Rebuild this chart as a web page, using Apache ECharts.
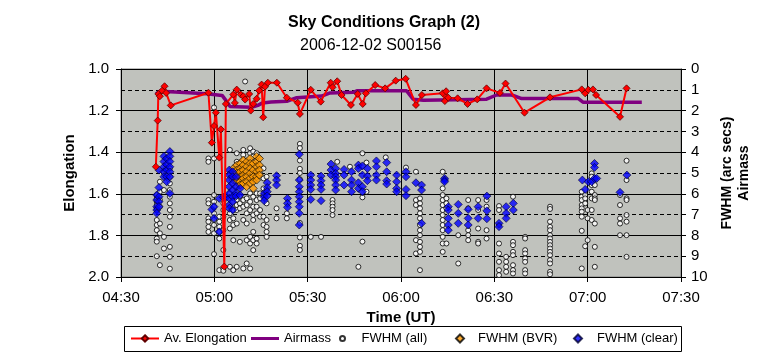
<!DOCTYPE html>
<html><head><meta charset="utf-8">
<script src="https://cdn.jsdelivr.net/npm/echarts@6/dist/echarts.min.js"></script>
<style>html,body{margin:0;padding:0;background:#fff}#c{width:762px;height:357px}</style>
</head><body><div id="c"></div>
<script>
const FONT = 'Liberation Sans, Arial, sans-serif';

// time in minutes after 00:00 UT
const xMin = 270, xMax = 450, xStep = 30;
const elongTicks = [1.0, 1.2, 1.4, 1.6, 1.8, 2.0];
const rightTicks = [0,1,2,3,4,5,6,7,8,9,10];

// Av. Elongation [minute, elongation]
const elongation = [
[281.2,1.47],[281.8,1.248],[282.0,1.12],[282.5,1.131],[283.2,1.104],[284.0,1.083],[284.5,1.115],[286.0,1.175],
[298.1,1.114],[299.2,1.354],[299.9,1.274],[300.5,1.21],[301.6,1.426],[302.1,1.29],[303.2,1.95],[303.7,1.168],
[306.1,1.123],[306.6,1.163],[307.2,1.099],[308.5,1.123],[309.3,1.131],[309.9,1.147],[311.2,1.12],[311.7,1.2],
[312.5,1.168],[313.6,1.143],[314.4,1.104],[315.2,1.075],[315.7,1.232],[316.3,1.085],[317.2,1.066],[320.1,1.066],
[323.3,1.138],[326.8,1.162],[327.5,1.216],[331.0,1.10],[334.2,1.157],[337.4,1.066],[338.0,1.088],[339.5,1.059],
[340.9,1.125],[343.9,1.173],[346.1,1.12],[347.7,1.168],[348.7,1.117],[351.7,1.077],[354.9,1.093],[358.3,1.056],
[361.5,1.047],[364.8,1.173],[366.7,1.125],[373.4,1.117],[374.1,1.154],[374.5,1.107],[375.2,1.138],[378.2,1.141],
[381.4,1.168],[384.5,1.146],[387.5,1.093],[391.8,1.115],[393.6,1.07],[399.7,1.21],[407.9,1.136],[418.1,1.098],
[419.2,1.117],[420.2,1.10],[421.7,1.098],[422.7,1.125],[430.4,1.23],[432.5,1.093]
];

// Airmass [minute, airmass]
const airmass = [
[281.25,1.2],[282.5,1.07],[287.4,1.1],[297.5,1.19],[302.5,1.27],[304.3,1.63],[305.0,1.8],[312.0,1.84],[314.0,1.75],
[315.5,1.63],[318.2,1.59],[323.3,1.55],[326.5,1.38],[334.5,1.3],[337.2,1.15],[344.7,1.12],[345.8,1.05],
[361.8,1.05],[363.9,1.45],[367.2,1.5],[387.5,1.45],[390.7,1.25],[395.6,1.25],[398.8,1.42],[417.0,1.42],
[418.6,1.6],[437.4,1.6]
];

// FWHM (all): [minute, [values...]]
const fwhmAllCols = [
[281.5,[6.06,6.22,6.38,6.54,6.7,6.78,7.26,7.5,7.75,8.15,8.3,9.0]],
[282.5,[5.42,5.9,6.3,6.62,7.43,7.9,9.43]],
[283.8,[5.0,5.82,8.07,8.63]],
[285.7,[4.78,5.18,5.5,5.82,6.14,6.46,6.78,7.1,7.59,8.55,9.03,9.6]],
[298.1,[4.3,4.46,6.3,6.46,7.18,7.34,7.59,7.83]],
[299.9,[1.85,4.3,6.06,6.38,6.62,6.94,7.26,7.5,7.9,8.9]],
[301.6,[7.1,7.34,7.59,7.83,8.15,9.67]],
[302.9,[6.46,6.78,7.1,7.75,8.7,9.6,9.7]],
[305.0,[3.89,5.02,5.98,6.94,7.26,7.67,9.51]],
[306.1,[6.78,7.18,7.5,8.23,9.67]],
[307.2,[4.05,4.46,6.3,6.54,6.78,7.43,9.51]],
[308.2,[4.54,6.14,6.46,6.7,8.31]],
[309.3,[3.89,4.13,4.38,6.3,6.62,7.26,9.59]],
[309.9,[0.6]],
[310.4,[6.22,6.54,6.94,7.43,8.23,9.35]],
[311.5,[3.81,4.05,5.98,6.38,6.78,8.07,8.39,9.59]],
[312.5,[3.97,4.21,6.14,6.62,7.02,7.26,7.83,8.23,8.71]],
[313.6,[4.05,5.98,6.3,6.62,6.94,8.15,8.39]],
[314.7,[5.02,5.98,6.22,6.78,7.1]],
[315.8,[4.78,5.26,5.74,6.06,7.1,7.5]],
[316.8,[5.18,5.82,6.46,7.26,7.59,7.83,8.07]],
[320.0,[6.7,7.18]],
[323.3,[6.94,7.18]],
[327.5,[3.6,3.8,4.4,4.8,5.0,5.3,7.4,8.1,8.5,8.7]],
[331.0,[8.07]],
[334.3,[8.07]],
[338.0,[6.3,6.46,6.62,6.78,7.02]],
[339.5,[4.46]],
[343.6,[4.7]],
[346.3,[9.51]],
[347.6,[4.05,6.17,8.3]],
[348.9,[4.5,5.9]],
[355.1,[4.25]],
[361.6,[4.74]],
[364.8,[4.94,6.3,6.54,8.23,8.87]],
[366.1,[6.22,6.46,6.7,6.94,7.18,7.5,7.75,7.99,8.31,8.55,8.79,9.67]],
[373.4,[4.94,5.74,6.06,6.3,6.54,6.78,7.02,7.26,7.5,7.75,8.07,8.39,8.79]],
[374.6,[6.22,6.46,6.7,8.39]],
[378.4,[7.99,9.35]],
[381.6,[6.3,6.7,7.75,7.99,8.23]],
[384.8,[6.3,6.78,7.67,8.31,8.39]],
[387.5,[6.3,6.62,7.75,8.15]],
[391.5,[6.59,6.78,7.5,8.39,8.87,9.27,9.67,9.91]],
[393.8,[9.03,9.27,9.51,9.75]],
[396.0,[6.14,8.31,8.47,8.79,8.95,9.43,9.67,9.83]],
[399.9,[8.07,8.15,8.71,8.87,9.11,9.27,9.67,9.83]],
[407.9,[6.62,6.73,7.34,7.59,7.75,7.99,8.15,8.31,8.47,8.63,8.79,8.95,9.19,9.35,9.75,9.87]],
[418.1,[5.9,6.14,6.3,6.54,6.7,6.86,7.1,7.78,9.59]],
[419.2,[6.06,6.22,6.46,8.52]],
[420.0,[6.78,7.18,8.23]],
[421.3,[5.02,5.18,5.58,5.9,6.22,6.78,7.26]],
[422.3,[5.58,6.06,6.22,6.3,7.43,8.55,9.51]],
[430.4,[6.06,6.54,7.18,7.43,7.99]],
[432.5,[4.41,5.34,6.22,6.3,7.02,7.34,7.99,9.03]]
];

// FWHM (BVR)
const fwhmBvrCols = [
[306.1,[4.78,5.1,5.34]],
[307.2,[4.62,4.86,5.02,5.26,5.42]],
[308.3,[4.54,4.78,4.94,5.18,5.42,5.58]],
[309.3,[4.38,4.62,4.86,5.1,5.26,5.5]],
[310.4,[4.46,4.7,4.94,5.18,5.42,5.66]],
[311.5,[4.3,4.54,4.78,5.02,5.26,5.5]],
[312.5,[4.54,4.86,5.18,5.42,5.74]],
[313.6,[4.21,4.46,4.7,4.94,5.18,5.34]],
[314.5,[4.3,4.62,4.86,5.1]]
];

// FWHM (clear)
const fwhmClearCols = [
[281.5,[6.06,6.3,6.62,6.78,6.94]],
[282.2,[4.86,5.7,6.14,6.38,6.62]],
[283.8,[4.2,4.45,4.7,4.94,5.18]],
[284.7,[4.3,4.6,4.86,5.18,5.42]],
[285.7,[3.97,4.2,4.45,4.7,4.94,5.18,5.98]],
[299.2,[6.75]],
[299.9,[6.62,7.18]],
[301.6,[6.22,7.83]],
[302.9,[6.17]],
[303.8,[6.17]],
[304.8,[4.86,5.1,5.34,5.66,5.98,6.22,6.54,6.7]],
[305.9,[4.94,5.18,5.5,5.82,6.14,6.38,6.78]],
[307.0,[5.18,5.66,5.98,6.1]],
[308.3,[5.74,6.06]],
[316.0,[5.98,6.17,6.33]],
[317.0,[5.47,5.7,5.9,6.1]],
[320.0,[5.13,5.34,5.58]],
[323.5,[6.22,6.46,6.65]],
[327.3,[4.1,5.34,5.66,5.9,6.14,6.38,6.62,6.94,7.5]],
[331.0,[5.1,5.34,5.58,5.79,6.27]],
[334.3,[5.15,5.37,5.58,5.79,6.33]],
[337.5,[4.57,4.86,5.1]],
[339.0,[4.78,5.02,5.18,5.34,5.58,5.82]],
[341.7,[4.83,5.1,5.58]],
[344.1,[4.94,5.34,5.58,5.9]],
[346.3,[4.62,4.78,5.47,5.74]],
[347.6,[4.66,5.1,5.66,5.9]],
[349.2,[4.78,5.15,5.37]],
[352.1,[4.42,4.7,5.1,5.34]],
[355.4,[4.5,4.94,5.37,5.53]],
[358.6,[5.1,5.42,5.74,5.9]],
[361.6,[4.94,5.18,5.79,6.09]],
[364.8,[5.47]],
[366.6,[5.58,5.82,7.42]],
[374.0,[5.26,5.34,5.42]],
[375.2,[6.62,6.78,7.18,7.5,7.75]],
[378.4,[6.51,6.94,7.42]],
[381.6,[6.75,7.18,7.5]],
[384.8,[6.62,7.18]],
[387.6,[6.11,6.82,7.2]],
[391.5,[7.42,7.58]],
[393.8,[6.62,6.94,7.18]],
[396.1,[6.46,6.78]],
[418.3,[5.34]],
[419.2,[5.79]],
[420.2,[5.42]],
[421.3,[5.42]],
[422.2,[4.54,4.73,5.26]],
[422.9,[5.26]],
[430.4,[5.93]],
[432.6,[5.1]]
];

function flat(cols){ const out=[]; cols.forEach(c=>c[1].forEach(v=>out.push([c[0],v]))); return out; }
function hhmm(v){ const h=Math.floor(v/60), m=Math.round(v-h*60); return (h<10?'0':'')+h+':'+(m<10?'0':'')+m; }

const chart = echarts.init(document.getElementById('c'), null, {renderer:'canvas'});
const txt = {fontFamily: FONT, color:'#000'};
function lg(extra, textPad){
  return Object.assign({orient:'horizontal', padding:0, itemGap:0, selectedMode:false, top:332,
    textStyle:Object.assign({fontSize:13, padding:[0,0,0,textPad||0]}, txt)}, extra);
}

chart.setOption({
  animation:false,
  backgroundColor:'#fff',
  title:[
    {text:'Sky Conditions Graph (2)', left:288, top:15, padding:0, textStyle:Object.assign({fontSize:16, fontWeight:'bold'}, txt)},
    {text:'2006-12-02 S00156', left:300, top:38, padding:0, textStyle:Object.assign({fontSize:16, fontWeight:'normal'}, txt)}
  ],
  grid:{left:121, right:81, top:69, bottom:80, show:true, backgroundColor:'#c0c2bd', borderColor:'#7f7f7f', borderWidth:1, containLabel:false},
  xAxis:{
    type:'value', min:xMin, max:xMax, interval:xStep,
    name:'Time (UT)', nameLocation:'middle', nameGap:31,
    nameTextStyle:Object.assign({fontSize:15, fontWeight:'bold'}, txt),
    axisLine:{show:true, onZero:false, lineStyle:{color:'#000', width:1}},
    axisTick:{show:true, inside:false, length:5, lineStyle:{color:'#000'}},
    axisLabel:Object.assign({fontSize:15, margin:13, formatter:hhmm}, txt),
    splitLine:{show:true, lineStyle:{color:'#000', width:1}}
  },
  yAxis:[
    {type:'value', position:'left', inverse:true, min:1, max:2, interval:0.2,
     name:'Elongation', nameLocation:'middle', nameGap:41, nameRotate:90,
     nameTextStyle:Object.assign({fontSize:15, fontWeight:'bold'}, txt),
     axisLine:{show:true, onZero:false, lineStyle:{color:'#000'}},
     axisTick:{show:true, length:5, lineStyle:{color:'#000'}},
     axisLabel:Object.assign({fontSize:15, margin:12, formatter:v=>v.toFixed(1)}, txt),
     splitLine:{show:true, lineStyle:{color:'#000', width:1}}
    },
    {type:'value', position:'right', inverse:true, min:0, max:10, interval:1,
     name:'FWHM (arc secs)\nAirmass', nameLocation:'middle', nameGap:38, nameRotate:90,
     nameTextStyle:Object.assign({fontSize:14, fontWeight:'bold', lineHeight:17}, txt),
     axisLine:{show:true, onZero:false, lineStyle:{color:'#000'}},
     axisTick:{show:true, length:5, lineStyle:{color:'#000'}},
     axisLabel:Object.assign({fontSize:15, margin:10}, txt),
     splitLine:{show:true, lineStyle:{color:'#000', width:1, type:[4,3]}}
    }
  ],
  legend:[
    lg({data:['Av. Elongation'], left:130, itemWidth:28, itemHeight:8}),
    lg({data:[{name:'Airmass', icon:'rect'}], left:251, itemWidth:28, itemHeight:3}),
    lg({data:['FWHM (all)'], left:339, itemWidth:28, itemHeight:5}),
    lg({data:['FWHM (BVR)'], left:455, itemWidth:8, itemHeight:8}, 9),
    lg({data:['FWHM (clear)'], left:573, itemWidth:8, itemHeight:8}, 10)
  ],
  graphic:[{type:'rect', shape:{x:124.5, y:326.5, width:557, height:25}, style:{fill:'none', stroke:'#000', lineWidth:1}, silent:true}],
  series:[
    {name:'FWHM (all)', type:'scatter', yAxisIndex:1, symbol:'circle', symbolSize:5, z:2,
     itemStyle:{color:'#ffffff', borderColor:'#000', borderWidth:1}, data:flat(fwhmAllCols)},
    {name:'FWHM (BVR)', type:'scatter', yAxisIndex:1, symbol:'diamond', symbolSize:8, z:3,
     itemStyle:{color:'#ff9900', borderColor:'#000', borderWidth:0.8}, data:flat(fwhmBvrCols)},
    {name:'FWHM (clear)', type:'scatter', yAxisIndex:1, symbol:'diamond', symbolSize:8, z:4,
     itemStyle:{color:'#0000ff', borderColor:'#000033', borderWidth:0.8}, data:flat(fwhmClearCols)},
    {name:'Airmass', type:'line', yAxisIndex:1, symbol:'none', showSymbol:false, z:5,
     itemStyle:{color:'#800080'}, lineStyle:{color:'#800080', width:3.5}, data:airmass},
    {name:'Av. Elongation', type:'line', yAxisIndex:0, symbol:'diamond', symbolSize:7, showSymbol:true, z:6,
     itemStyle:{color:'#ff0000', borderColor:'#600000', borderWidth:0.8}, lineStyle:{color:'#ff0000', width:2}, data:elongation}
  ]
});
</script></body></html>
